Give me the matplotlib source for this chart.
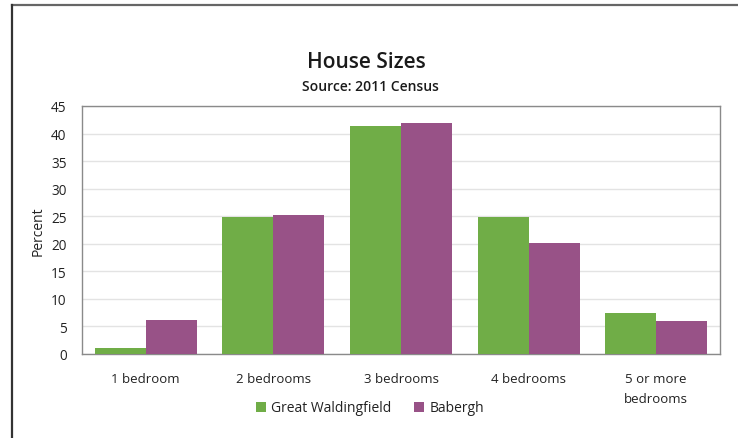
import matplotlib
matplotlib.use("Agg")
import matplotlib.pyplot as plt
from matplotlib.lines import Line2D
import numpy as np

categories = ["1 bedroom", "2 bedrooms", "3 bedrooms", "4 bedrooms", "5 or more\nbedrooms"]
great_waldingfield = [1.1, 24.9, 41.4, 24.8, 7.4]
babergh = [6.2, 25.3, 41.9, 20.1, 5.9]
series_names = ["Great Waldingfield", "Babergh"]
yticks = [0, 5, 10, 15, 20, 25, 30, 35, 40, 45]

plt.rcParams['font.family'] = ['Open Sans', 'DejaVu Sans']

fig = plt.figure(figsize=(7.38, 4.39), dpi=100)
ax = fig.add_axes([82/738, 1-355/439, (720-82)/738, (355-107)/439])

x = np.arange(len(categories))
w = 0.4
green = '#70AD47'
purple = '#985287'
ax.bar(x - w/2, great_waldingfield, width=w, color=green, label=series_names[0], zorder=3)
ax.bar(x + w/2, babergh, width=w, color=purple, label=series_names[1], zorder=3)

ax.set_xlim(-0.5, len(categories) - 0.5)
ax.set_ylim(0, 45)
ax.set_yticks(yticks)
ax.set_yticklabels([str(t) for t in yticks], fontsize=9.8, color='#222222')
ax.set_xticks(x)
ax.set_xticklabels(categories, fontsize=9.5, color='#222222', linespacing=1.65)
ax.tick_params(axis='x', length=0, pad=13)
ax.tick_params(axis='y', length=0, pad=11)
ax.yaxis.grid(True, color='#E3E3E3', lw=1, zorder=0)
for s in ax.spines.values():
    s.set_color('#8A8A8A')
    s.set_linewidth(1.0)
ax.set_ylabel("Percent", fontsize=10, color='#222222', labelpad=4)

fig.text(366/738, 1-63/439, "House Sizes", ha='center', va='center', fontsize=15,
         fontweight='semibold', color='#1A1A1A')
fig.text(370/738, 1-87/439, "Source: 2011 Census", ha='center', va='center', fontsize=10,
         fontweight='semibold', color='#1A1A1A')

leg = fig.legend(loc='center', bbox_to_anchor=(370/738, 1-409/439), ncol=2, frameon=False,
                 fontsize=10, handlelength=0.7, handleheight=0.7, handletextpad=0.4,
                 columnspacing=1.6)
for t in leg.get_texts():
    t.set_color('#222222')

# outer frame (top and left)
fig.add_artist(Line2D([12/738, 1], [1-6/439, 1-6/439], color='#666666', lw=1.6, transform=fig.transFigure))
fig.add_artist(Line2D([12/738, 12/738], [0, 1-6/439], color='#333333', lw=1.6, transform=fig.transFigure))

fig.savefig("out.png", dpi=100)
